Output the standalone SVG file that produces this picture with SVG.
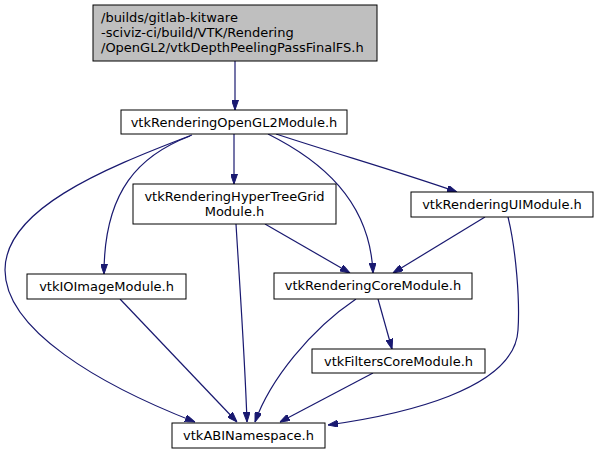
<svg xmlns="http://www.w3.org/2000/svg" width="599" height="455" viewBox="0 0 599 455">
<style>
.n rect{fill:#fff;stroke:#000;stroke-width:1}
.n text{font-family:"DejaVu Sans",sans-serif;font-size:13px;fill:#000;text-anchor:middle}
#edges path{fill:none;stroke:#191970;stroke-width:1.2;marker-end:url(#ah)}
</style>
<defs>
<marker id="ah" viewBox="0 0 10 7" refX="10" refY="3.5" markerWidth="10" markerHeight="7" markerUnits="userSpaceOnUse" orient="auto">
<path d="M0,0 L10,3.5 L0,7 z" fill="#191970" stroke="#191970"/>
</marker>
</defs>
<rect width="599" height="455" fill="#fff"/>
<g id="edges">
<path d="M235,61 L235,110"/>
<path d="M192,135 C100,170 5,210 5,270 C5,330 100,385 195,422"/>
<path d="M190,136 C140,155 104,190 104,274"/>
<path d="M234,134 L234,184"/>
<path d="M268,134 C320,160 370,200 373,273"/>
<path d="M276,134 C340,155 400,172 457,192"/>
<path d="M265,224 L350,273"/>
<path d="M236,224 C240,290 245,360 247,422"/>
<path d="M485,217 L393,273"/>
<path d="M508,217 C516,250 520,300 518,330 C515,390 400,415 328,425"/>
<path d="M120,299 L237,422"/>
<path d="M356,299 C310,330 270,380 255,422"/>
<path d="M378,299 L392,349"/>
<path d="M373,373 L280,422"/>
</g>
<g id="node1" class="n">
<rect x="93" y="5" width="284" height="56" style="fill:#bfbfbf"/>
<text x="101" y="22" style="text-anchor:start">/builds/gitlab-kitware</text>
<text x="101" y="37" style="text-anchor:start">-sciviz-ci/build/VTK/Rendering</text>
<text x="101" y="52" style="text-anchor:start">/OpenGL2/vtkDepthPeelingPassFinalFS.h</text>
</g>
<g id="node2" class="n">
<rect x="121" y="110" width="226" height="24"/>
<text x="234" y="127">vtkRenderingOpenGL2Module.h</text>
</g>
<g id="node3" class="n">
<rect x="133" y="184" width="203" height="40"/>
<text x="234.5" y="201">vtkRenderingHyperTreeGrid</text>
<text x="234.5" y="216">Module.h</text>
</g>
<g id="node4" class="n">
<rect x="411" y="192" width="182" height="25"/>
<text x="502" y="209">vtkRenderingUIModule.h</text>
</g>
<g id="node5" class="n">
<rect x="27" y="274" width="159" height="25"/>
<text x="106.5" y="291">vtkIOImageModule.h</text>
</g>
<g id="node6" class="n">
<rect x="274" y="273" width="198" height="26"/>
<text x="373" y="290">vtkRenderingCoreModule.h</text>
</g>
<g id="node7" class="n">
<rect x="312" y="349" width="173" height="24"/>
<text x="398.5" y="366">vtkFiltersCoreModule.h</text>
</g>
<g id="node8" class="n">
<rect x="172" y="423" width="153" height="25"/>
<text x="248.5" y="440">vtkABINamespace.h</text>
</g>
</svg>
